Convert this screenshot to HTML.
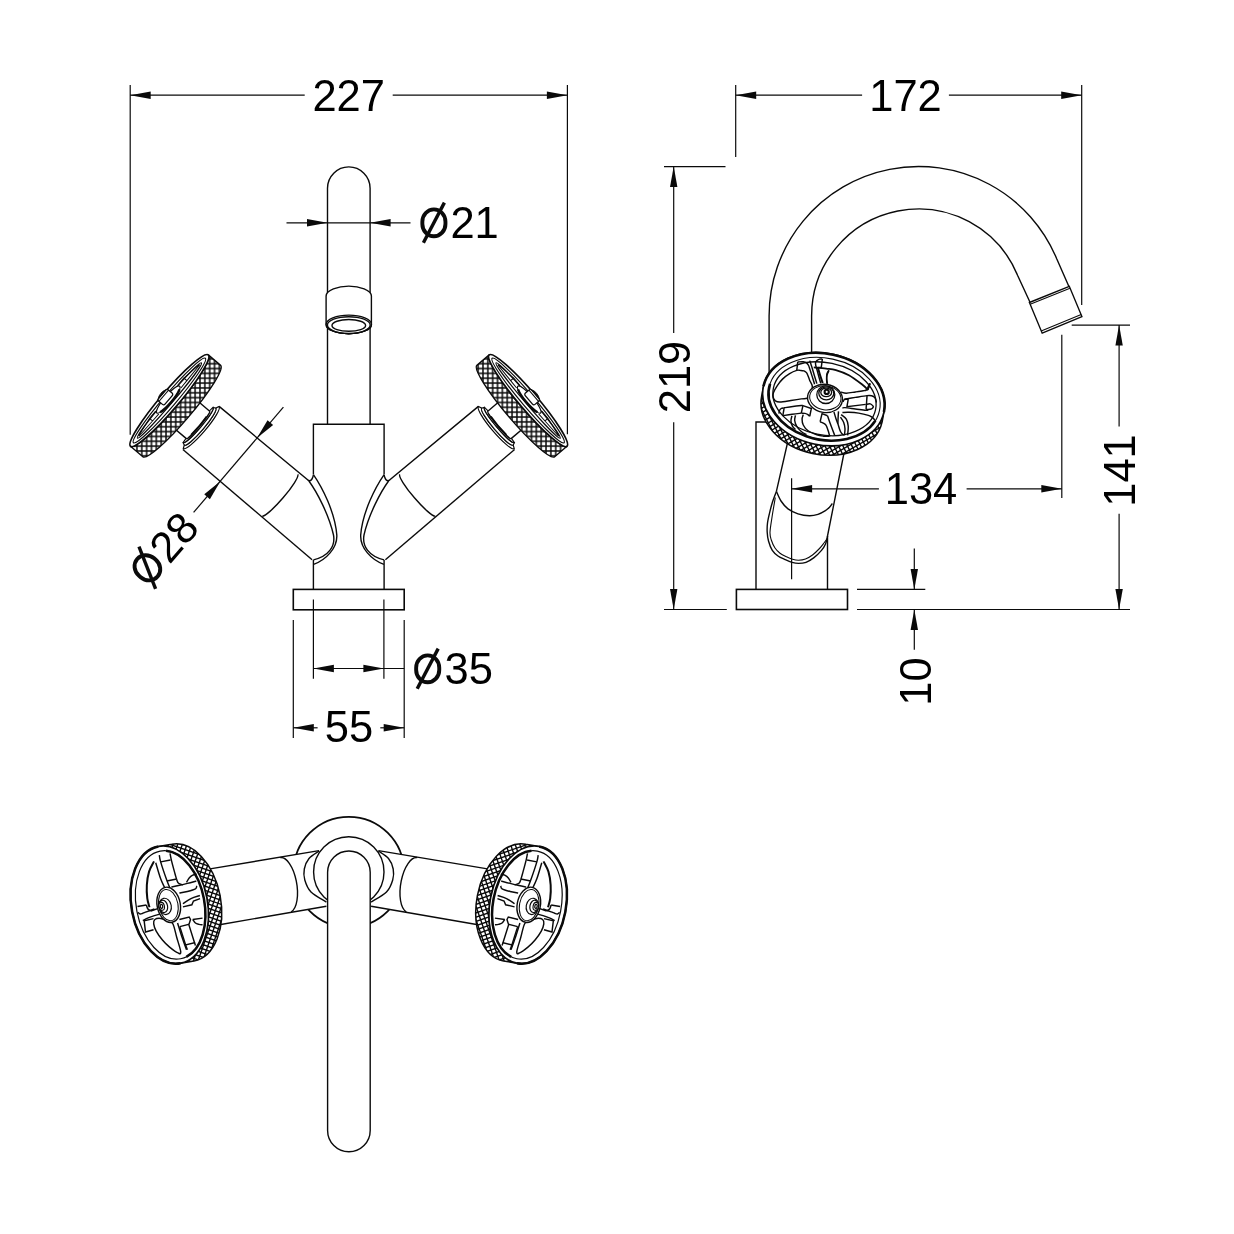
<!DOCTYPE html>
<html><head><meta charset="utf-8"><title>Tap dimensions</title>
<style>
html,body{margin:0;padding:0;background:#fff;}
svg{display:block;will-change:transform;}
text{font-family:"Liberation Sans",sans-serif;fill:#000;}
</style></head><body>
<svg width="1234" height="1234" viewBox="0 0 1234 1234">
<rect width="1234" height="1234" fill="#fff"/>
<defs>
<pattern id="grid" width="4.85" height="4.85" patternUnits="userSpaceOnUse" patternTransform="rotate(-40.4) translate(1.475 6.785)">
<rect width="4.85" height="4.85" fill="#0a0a0a"/>
<rect x="0.75" y="0.75" width="3.35" height="3.35" fill="#fff"/>
</pattern>
<pattern id="diag" width="4.0" height="4.0" patternUnits="userSpaceOnUse" patternTransform="translate(830.1 447.2) rotate(-28)">
<rect width="4" height="4" fill="#0a0a0a"/>
<rect x="0.7" y="0.7" width="2.6" height="2.6" fill="#fff"/>
</pattern>
<pattern id="diag2" width="4.4" height="4.0" patternUnits="userSpaceOnUse" patternTransform="translate(213.5 889) rotate(19)">
<rect width="4.4" height="4" fill="#0a0a0a"/>
<rect x="0.75" y="0.7" width="2.9" height="2.6" fill="#fff"/>
</pattern>
</defs>
<line x1="130.2" y1="85" x2="130.2" y2="434.8" stroke="#0a0a0a" stroke-width="1.2" />
<line x1="567.4" y1="85" x2="567.4" y2="434.3" stroke="#0a0a0a" stroke-width="1.2" />
<line x1="130.2" y1="95.2" x2="304.7" y2="95.2" stroke="#0a0a0a" stroke-width="1.2" />
<line x1="392.7" y1="95.2" x2="567.4" y2="95.2" stroke="#0a0a0a" stroke-width="1.2" />
<polygon points="130.2,95.2 150.7,91.5 150.7,98.9" fill="#0a0a0a"/>
<polygon points="567.4,95.2 546.9,98.9 546.9,91.5" fill="#0a0a0a"/>
<text x="348.7" y="111" font-size="43.5" text-anchor="middle">227</text>
<path d="M327.5,424.2 V188.2 A21.3,21.3 0 0 1 370.1,188.2 V424.2" stroke="#0a0a0a" stroke-width="1.4" fill="none" />
<path d="M326.1,296 C326.1,290 338,286.1 348.8,286.1 C359.6,286.1 371.4,290 371.4,296 V324.4 A22.65,9.3 0 0 1 326.1,324.4 Z" stroke="#0a0a0a" stroke-width="1.4" fill="#fff" />
<ellipse cx="348.8" cy="324.4" rx="22.65" ry="9.3" stroke="#0a0a0a" stroke-width="1.4" fill="#fff" />
<ellipse cx="348.8" cy="325.1" rx="21.4" ry="8.4" stroke="#0a0a0a" stroke-width="1.4" fill="none" />
<ellipse cx="348.8" cy="325.4" rx="16.8" ry="5.9" stroke="#0a0a0a" stroke-width="1.4" fill="none" />
<line x1="286.5" y1="222.8" x2="410.5" y2="222.8" stroke="#0a0a0a" stroke-width="1.2" />
<polygon points="327.5,222.8 307,226.5 307,219.1" fill="#0a0a0a"/>
<polygon points="370.1,222.8 390.6,219.1 390.6,226.5" fill="#0a0a0a"/>
<g><rect x="422.35" y="209.35" width="23.1" height="26.9" rx="11.55" ry="12.37" fill="none" stroke="#0a0a0a" stroke-width="3.9"/><line x1="423.4" y1="242.7" x2="444.4" y2="202.6" stroke="#0a0a0a" stroke-width="3.4"/></g>
<text x="450.4" y="237.8" font-size="43.5" text-anchor="start">21</text>
<path d="M313.4,474.6 V424.2 H384.1 V474.6" stroke="#0a0a0a" stroke-width="1.4" fill="none" />
<path d="M313.4,559.9 V589.4 M384.1,559.9 V589.4" stroke="#0a0a0a" stroke-width="1.4" fill="none" />
<rect x="293.3" y="589.4" width="110.9" height="20.4" fill="#fff" stroke="#0a0a0a" stroke-width="1.6"/>
<g id="fh"><g transform="translate(169.4 400.55) rotate(40.4)"><path d="M41.7,-27.6 A4.8,27.6 0 0 1 41.7,27.6 L40.2,24.2 A4.0,24.2 0 0 0 40.2,-24.2 Z" stroke="#0a0a0a" stroke-width="1.2" fill="#fff" />
<path d="M40.2,-24.2 A4.0,24.2 0 0 1 40.2,24.2 L37.6,23.2 A3.4,23.2 0 0 0 37.6,-23.2 Z" stroke="#0a0a0a" stroke-width="1.1" fill="#fff" />
<path d="M37.6,-23.2 A3.4,23.2 0 0 1 37.6,23.2 L37.2,18 A2.0,18 0 0 0 37.2,-18 Z" stroke="#0a0a0a" stroke-width="1.1" fill="#fff" />
<path d="M18,-18 H37.6 A2.0,18 0 0 1 37.6,18 H18" stroke="#0a0a0a" stroke-width="1.4" fill="#fff" />
<path d="M38.6,-12 A2.0,18 0 0 1 38.6,12" stroke="#0a0a0a" stroke-width="1.6" fill="none" />
<path d="M0,-60 L16.2,-60 A9.0,60 0 0 1 16.2,60 L0,60 A9.0,60 0 0 0 0,-60 Z" stroke="#0a0a0a" stroke-width="1.4" fill="url(#grid)" />
<ellipse cx="0" cy="0" rx="9" ry="60" stroke="#0a0a0a" stroke-width="1.7" fill="#fff" />
<ellipse cx="0" cy="0" rx="6.2" ry="55.5" stroke="#0a0a0a" stroke-width="1.2" fill="none" />
<ellipse cx="0" cy="0" rx="3.3" ry="49.5" stroke="#0a0a0a" stroke-width="1.2" fill="none" />
<path d="M-3.6,17 L-3.6,26.5 L0.4,26.5 M-3.6,26.5 L-0.6,47 M0.6,17 L0.4,26.5 L-0.1,47" stroke="#0a0a0a" stroke-width="1.0" fill="none" />
<path d="M-3.6,-17 L-3.6,-26.5 L0.4,-26.5 M-3.6,-26.5 L-0.6,-47 M0.6,-17 L0.4,-26.5 L-0.1,-47" stroke="#0a0a0a" stroke-width="1.0" fill="none" />
<ellipse cx="-1.5" cy="0" rx="4" ry="17.6" stroke="#0a0a0a" stroke-width="1.2" fill="#fff" />
<path d="M0.5,-15 A4,17.6 0 0 1 0.5,15" stroke="#0a0a0a" stroke-width="2.4" fill="none" />
<rect x="-9.5" y="-7.4" width="8.5" height="14.8" rx="1.8" fill="#fff" stroke="#0a0a0a" stroke-width="1.3"/>
<path d="M-7.4,-7.4 V7.4" stroke="#0a0a0a" stroke-width="1.0" fill="none" />
<path d="M-9.5,-6.5 Q-13,0 -9.5,6.5 Z" stroke="#0a0a0a" stroke-width="0.8" fill="#0a0a0a" /></g>
<path d="M219.1,406.4 L307.6,479.7 C309,481.3 311.9,481.8 313.4,475" stroke="#0a0a0a" stroke-width="1.4" fill="none" />
<path d="M182.9,449.5 L312.1,559.7" stroke="#0a0a0a" stroke-width="1.4" fill="none" />
<path d="M297.8,474.4 A27.5,4.3 -49.4 0 1 262.1,516.1" stroke="#0a0a0a" stroke-width="1.4" fill="none" />
<path d="M313.4,474.6 C322,487 335,512 336.8,535 C337.5,548 326,560 313.6,564.4" stroke="#0a0a0a" stroke-width="1.4" fill="none" />
<path d="M308.9,481 C317,492 329,515 333.5,535 C335.5,546 329,556 313.4,559.9" stroke="#0a0a0a" stroke-width="1.4" fill="none" /></g>
<use href="#fh" transform="translate(697.5 0) scale(-1 1)"/>
<line x1="283.4" y1="407.2" x2="193.6" y2="512.4" stroke="#0a0a0a" stroke-width="1.2" />
<polygon points="257,438.1 267.53,420.13 273.15,424.94" fill="#0a0a0a"/>
<polygon points="220.4,481.2 209.87,499.17 204.25,494.36" fill="#0a0a0a"/>
<g transform="rotate(-49.2 147.4 567.8)"><rect x="135.85" y="554.35" width="23.1" height="26.9" rx="11.55" ry="12.37" fill="none" stroke="#0a0a0a" stroke-width="3.9"/><line x1="136.9" y1="587.7" x2="157.9" y2="547.6" stroke="#0a0a0a" stroke-width="3.4"/></g>
<g transform="translate(147.4 567.8) rotate(-49.2)"><text x="16.4" y="15" font-size="43.5" text-anchor="start">28</text></g>
<line x1="313.4" y1="599.4" x2="313.4" y2="678.8" stroke="#0a0a0a" stroke-width="1.2" />
<line x1="383.9" y1="599.4" x2="383.9" y2="678.8" stroke="#0a0a0a" stroke-width="1.2" />
<line x1="313.4" y1="668.5" x2="404.2" y2="668.5" stroke="#0a0a0a" stroke-width="1.2" />
<polygon points="313.4,668.5 333.9,664.8 333.9,672.2" fill="#0a0a0a"/>
<polygon points="383.9,668.5 363.4,672.2 363.4,664.8" fill="#0a0a0a"/>
<g><rect x="416.15" y="655.35" width="23.1" height="26.9" rx="11.55" ry="12.37" fill="none" stroke="#0a0a0a" stroke-width="3.9"/><line x1="417.2" y1="688.7" x2="438.2" y2="648.6" stroke="#0a0a0a" stroke-width="3.4"/></g>
<text x="444.6" y="684" font-size="43.5" text-anchor="start">35</text>
<line x1="293.3" y1="620" x2="293.3" y2="738" stroke="#0a0a0a" stroke-width="1.2" />
<line x1="404.2" y1="620" x2="404.2" y2="738" stroke="#0a0a0a" stroke-width="1.2" />
<line x1="293.3" y1="727.8" x2="317.6" y2="727.8" stroke="#0a0a0a" stroke-width="1.2" />
<line x1="380.3" y1="727.8" x2="404.2" y2="727.8" stroke="#0a0a0a" stroke-width="1.2" />
<polygon points="293.3,727.8 313.8,724.1 313.8,731.5" fill="#0a0a0a"/>
<polygon points="404.2,727.8 383.7,731.5 383.7,724.1" fill="#0a0a0a"/>
<text x="349" y="742.4" font-size="43.5" text-anchor="middle">55</text>
<line x1="735.7" y1="85" x2="735.7" y2="157" stroke="#0a0a0a" stroke-width="1.2" />
<line x1="1081.7" y1="85" x2="1081.7" y2="304.9" stroke="#0a0a0a" stroke-width="1.2" />
<line x1="735.7" y1="95.2" x2="862.1" y2="95.2" stroke="#0a0a0a" stroke-width="1.2" />
<line x1="948.9" y1="95.2" x2="1081.7" y2="95.2" stroke="#0a0a0a" stroke-width="1.2" />
<polygon points="735.7,95.2 756.2,91.5 756.2,98.9" fill="#0a0a0a"/>
<polygon points="1081.7,95.2 1061.2,98.9 1061.2,91.5" fill="#0a0a0a"/>
<text x="905.5" y="111" font-size="43.5" text-anchor="middle">172</text>
<line x1="664" y1="166.6" x2="725.5" y2="166.6" stroke="#0a0a0a" stroke-width="1.2" />
<line x1="664" y1="609.5" x2="726.8" y2="609.5" stroke="#0a0a0a" stroke-width="1.2" />
<line x1="673.7" y1="166.6" x2="673.7" y2="333" stroke="#0a0a0a" stroke-width="1.2" />
<line x1="673.7" y1="422.2" x2="673.7" y2="609.5" stroke="#0a0a0a" stroke-width="1.2" />
<polygon points="673.7,166.6 677.4,187.1 670,187.1" fill="#0a0a0a"/>
<polygon points="673.7,609.5 670,589 677.4,589" fill="#0a0a0a"/>
<text x="689.5" y="377" font-size="43.5" text-anchor="middle" transform="rotate(-90 689.5 377)">219</text>
<path d="M769.1,380 V316 A149.5,149.5 0 0 1 1056.82,259.03 L1068.8,286.2" stroke="#0a0a0a" stroke-width="1.4" fill="none" />
<path d="M811.6,360 V316 A107.0,107.0 0 0 1 1017.53,275.23 L1029.9,302" stroke="#0a0a0a" stroke-width="1.4" fill="none" />
<path d="M1029.4,302.5 L1069.3,286.3 L1081.9,316.6 L1042.2,333.2 Z" stroke="#0a0a0a" stroke-width="1.4" fill="#fff" />
<path d="M1030.2,304.2 L1070,288.2 M1041.2,331 L1081.2,314.6" stroke="#0a0a0a" stroke-width="1.1" fill="none" />
<line x1="1071.7" y1="325.1" x2="1130" y2="325.1" stroke="#0a0a0a" stroke-width="1.2" />
<line x1="857" y1="609.5" x2="1130" y2="609.5" stroke="#0a0a0a" stroke-width="1.2" />
<line x1="1119.1" y1="325.1" x2="1119.1" y2="426.4" stroke="#0a0a0a" stroke-width="1.2" />
<line x1="1119.1" y1="513.7" x2="1119.1" y2="609.5" stroke="#0a0a0a" stroke-width="1.2" />
<polygon points="1119.1,325.1 1122.8,345.6 1115.4,345.6" fill="#0a0a0a"/>
<polygon points="1119.1,609.5 1115.4,589 1122.8,589" fill="#0a0a0a"/>
<text x="1135" y="470.5" font-size="43.5" text-anchor="middle" transform="rotate(-90 1135 470.5)">141</text>
<line x1="791.6" y1="478.3" x2="791.6" y2="579.2" stroke="#0a0a0a" stroke-width="1.2" />
<line x1="1061.8" y1="334.8" x2="1061.8" y2="498" stroke="#0a0a0a" stroke-width="1.2" />
<line x1="857" y1="589.4" x2="925.3" y2="589.4" stroke="#0a0a0a" stroke-width="1.2" />
<line x1="914.3" y1="548.6" x2="914.3" y2="589.4" stroke="#0a0a0a" stroke-width="1.2" />
<line x1="914.3" y1="609.5" x2="914.3" y2="649.8" stroke="#0a0a0a" stroke-width="1.2" />
<polygon points="914.3,589.4 910.6,568.9 918,568.9" fill="#0a0a0a"/>
<polygon points="914.3,609.5 918,630 910.6,630" fill="#0a0a0a"/>
<text x="930.5" y="681.5" font-size="43.5" text-anchor="middle" transform="rotate(-90 930.5 681.5)">10</text>
<path d="M770,422 H756 V589.4 M827.5,536 V589.4" stroke="#0a0a0a" stroke-width="1.4" fill="none" />
<rect x="736.4" y="589.4" width="111.1" height="20.1" fill="#fff" stroke="#0a0a0a" stroke-width="1.6"/>
<path d="M790,432 L776.4,491.4 M846,443 L827.5,536" stroke="#0a0a0a" stroke-width="1.4" fill="none" />
<path d="M776.4,491.4 C777.17,493 779.07,498.08 781,501 C782.93,503.92 785.17,506.77 788,508.9 C790.83,511.03 794.43,512.67 798,513.8 C801.57,514.93 806.07,515.62 809.4,515.7 C812.73,515.78 815.4,515.12 818,514.3 C820.6,513.48 823.08,511.97 825,510.8 C826.92,509.63 828.27,508.52 829.5,507.3 C830.73,506.08 831.92,504.13 832.4,503.5" stroke="#0a0a0a" stroke-width="1.4" fill="none" />
<path d="M776.4,491.4 C775.75,493.17 773.63,498.43 772.5,502 C771.37,505.57 770.43,509.3 769.6,512.8 C768.77,516.3 767.9,519.77 767.5,523 C767.1,526.23 767.03,529.2 767.2,532.2 C767.37,535.2 767.65,537.97 768.5,541 C769.35,544.03 770.72,547.9 772.3,550.4 C773.88,552.9 775.85,554.47 778,556 C780.15,557.53 782.87,558.55 785.2,559.6 C787.53,560.65 789.78,561.67 792,562.3 C794.22,562.93 796.17,563.4 798.5,563.4 C800.83,563.4 803.42,563.27 806,562.3 C808.58,561.33 811.42,559.58 814,557.6 C816.58,555.62 819.58,552.67 821.5,550.4 C823.42,548.13 824.48,546.4 825.5,544 C826.52,541.6 827.25,537.33 827.6,536" stroke="#0a0a0a" stroke-width="1.4" fill="none" />
<path d="M775.3,497.5 C774.77,500.68 772.98,510.82 772.1,516.6 C771.22,522.38 770.13,528.3 770,532.2 C769.87,536.1 770.47,537.37 771.3,540 C772.13,542.63 773.55,545.8 775,548 C776.45,550.2 778.08,551.73 780,553.2 C781.92,554.67 784.42,555.8 786.5,556.8 C788.58,557.8 790.5,558.63 792.5,559.2 C794.5,559.77 796.33,560.23 798.5,560.2 C800.67,560.17 803.17,559.87 805.5,559 C807.83,558.13 810.17,556.75 812.5,555 C814.83,553.25 817.58,550.5 819.5,548.5 C821.42,546.5 822.72,544.67 824,543 C825.28,541.33 826.67,539.25 827.2,538.5" stroke="#0a0a0a" stroke-width="1.1" fill="none" />
<line x1="791.6" y1="488.8" x2="878.9" y2="488.8" stroke="#0a0a0a" stroke-width="1.2" />
<line x1="966.6" y1="488.8" x2="1061.8" y2="488.8" stroke="#0a0a0a" stroke-width="1.2" />
<polygon points="791.6,488.8 812.1,485.1 812.1,492.5" fill="#0a0a0a"/>
<polygon points="1061.8,488.8 1041.3,492.5 1041.3,485.1" fill="#0a0a0a"/>
<text x="921" y="504.4" font-size="43.5" text-anchor="middle">134</text>
<clipPath id="cps"><path d="M763.45,386.29 L761.65,396.19 A61.6,45.9 12.0 0 0 882.15,421.81 L883.95,411.91 A61.6,45.9 12.0 0 1 763.45,386.29 Z"/></clipPath>
<path d="M763.45,386.29 L761.65,396.19 A61.6,45.9 12.0 0 0 882.15,421.81 L883.95,411.91 A61.6,45.9 12.0 0 1 763.45,386.29 Z" fill="#fff"/>
<g clip-path="url(#cps)"><path d="M862.96,309.04 L936.67,453.7 M859.4,310.86 L933.1,455.52 M855.83,312.68 L929.54,457.33 M852.27,314.49 L925.97,459.15 M848.7,316.31 L922.41,460.96 M845.14,318.12 L918.85,462.78 M841.58,319.94 L915.28,464.59 M838.01,321.76 L911.72,466.41 M834.45,323.57 L908.15,468.23 M830.88,325.39 L904.59,470.04 M827.32,327.2 L901.03,471.86 M823.76,329.02 L897.46,473.67 M820.19,330.84 L893.9,475.49 M816.63,332.65 L890.33,477.31 M813.06,334.47 L886.77,479.12 M809.5,336.28 L883.21,480.94 M805.94,338.1 L879.64,482.75 M802.37,339.92 L876.08,484.57 M798.81,341.73 L872.51,486.39 M795.24,343.55 L868.95,488.2 M791.68,345.36 L865.38,490.02 M788.12,347.18 L861.82,491.83 M784.55,349 L858.26,493.65 M780.99,350.81 L854.69,495.47 M777.42,352.63 L851.13,497.28 M773.86,354.44 L847.56,499.1 M770.3,356.26 L844,500.91 M766.73,358.07 L840.44,502.73 M763.17,359.89 L836.87,504.55 M759.6,361.71 L833.31,506.36 M756.04,363.52 L829.74,508.18 M752.48,365.34 L826.18,509.99 M748.91,367.15 L822.62,511.81 M745.35,368.97 L819.05,513.63 M741.78,370.79 L815.49,515.44 M738.22,372.6 L811.92,517.26 M734.66,374.42 L808.36,519.07 M731.09,376.23 L804.8,520.89 M727.53,378.05 L801.23,522.71 M723.96,379.87 L797.67,524.52 M720.4,381.68 L794.1,526.34 M716.83,383.5 L790.54,528.15 M713.27,385.31 L786.98,529.97" stroke="#0a0a0a" stroke-width="1.4" fill="none"/><path d="M713,390.1 L853.6,308.92 M715,393.56 L855.6,312.39 M717,397.03 L857.6,315.85 M719,400.49 L859.6,319.32 M721,403.95 L861.6,322.78 M723,407.42 L863.6,326.24 M725,410.88 L865.6,329.71 M727,414.35 L867.6,333.17 M729,417.81 L869.6,336.64 M731,421.28 L871.6,340.1 M733,424.74 L873.6,343.56 M735,428.2 L875.6,347.03 M737,431.67 L877.6,350.49 M739,435.13 L879.6,353.96 M741,438.6 L881.6,357.42 M743,442.06 L883.6,360.88 M745,445.52 L885.6,364.35 M747,448.99 L887.6,367.81 M749,452.45 L889.6,371.28 M751,455.92 L891.6,374.74 M753,459.38 L893.6,378.21 M755,462.84 L895.6,381.67 M757,466.31 L897.6,385.13 M759,469.77 L899.6,388.6 M761,473.24 L901.6,392.06 M763,476.7 L903.6,395.53 M765,480.16 L905.6,398.99 M767,483.63 L907.6,402.45 M769,487.09 L909.6,405.92 M771,490.56 L911.6,409.38 M773,494.02 L913.6,412.85 M775,497.49 L915.6,416.31 M777,500.95 L917.6,419.77 M779,504.41 L919.6,423.24 M781,507.88 L921.6,426.7 M783,511.34 L923.6,430.17 M785,514.81 L925.6,433.63 M787,518.27 L927.6,437.09 M789,521.73 L929.6,440.56 M791,525.2 L931.6,444.02 M793,528.66 L933.6,447.49 M795,532.13 L935.6,450.95" stroke="#0a0a0a" stroke-width="1.4" fill="none"/></g>
<path d="M763.45,386.29 L761.65,396.19 A61.6,45.9 12.0 0 0 882.15,421.81 L883.95,411.91 A61.6,45.9 12.0 0 1 763.45,386.29 Z" stroke="#0a0a0a" stroke-width="1.5" fill="none" />
<ellipse cx="823.7" cy="399.1" rx="61.6" ry="45.9" stroke="#0a0a0a" stroke-width="1.6" fill="#fff" transform="rotate(12 823.7 399.1)" />
<path d="M763.45,386.29 A61.6,45.9 12.0 0 1 883.95,411.91" stroke="#0a0a0a" stroke-width="2.6" fill="none" />
<ellipse cx="824.3" cy="399" rx="56.4" ry="40.8" stroke="#0a0a0a" stroke-width="1.1" fill="none" transform="rotate(12 824.3 399)" />
<path d="M770.08,383.84 A56.4,40.8 12.0 0 0 875.39,420.66" stroke="#0a0a0a" stroke-width="2.6" fill="none" />
<ellipse cx="824.5" cy="398.8" rx="52.2" ry="36.1" stroke="#0a0a0a" stroke-width="1.3" fill="none" transform="rotate(12 824.5 398.8)" />
<path d="M796.77,370.37 C795.04,370.91 792.01,372.15 789.64,373.61 C787.26,375.07 784.56,377.12 782.5,379.12 C780.45,381.12 778.83,383.33 777.32,385.6 C775.8,387.87 774.13,390.79 773.43,392.73 C772.73,394.68 772.78,395.92 773.1,397.27 C773.43,398.62 774.24,400.06 775.37,400.84 C776.51,401.61 777.32,401.99 779.91,401.94 C782.5,401.88 787.37,401.02 790.93,400.51 C794.5,400 798.28,399.43 801.3,398.89 C804.33,398.35 807.25,399.27 809.08,397.27 C810.92,395.27 812.22,389.71 812.33,386.9 C812.43,384.09 810.49,382.36 809.73,380.41 C808.98,378.47 808.33,376.53 807.79,375.23 C807.25,373.93 807.14,373.37 806.49,372.64 C805.84,371.9 804.98,371.2 803.9,370.82 C802.82,370.44 801.2,370.44 800.01,370.37 C798.82,370.29 798.5,369.83 796.77,370.37 Z" stroke="#0a0a0a" stroke-width="1.45" fill="none" />
<path d="M814.59,384.3 C814.16,382.9 812.81,378.47 812,375.88 C811.19,373.28 810.31,370.47 809.73,368.75 C809.16,367.02 809.11,366.48 808.57,365.5 C808.03,364.53 807.38,363.53 806.49,362.91 C805.61,362.29 804.71,361.97 803.25,361.81 C801.79,361.65 798.66,361.92 797.74,361.94" stroke="#0a0a0a" stroke-width="1.45" fill="none" />
<path d="M797.74,361.94 L796.77,370.37" stroke="#0a0a0a" stroke-width="1.45" fill="none" />
<path d="M816.86,383.66 C816.43,382.25 815.08,377.93 814.27,375.23 C813.46,372.53 812.6,369.39 812,367.45 C811.41,365.5 811.08,364.69 810.71,363.56 C810.33,362.42 809.89,361.13 809.73,360.64" stroke="#0a0a0a" stroke-width="1.45" fill="none" />
<path d="M820.75,383.33 C820.43,382.2 819.46,378.85 818.81,376.53 C818.16,374.2 817.37,371.23 816.86,369.39 C816.36,367.56 815.98,366.64 815.76,365.5 C815.55,364.37 815.38,363.4 815.57,362.59 C815.75,361.78 816.22,361.21 816.86,360.64 C817.51,360.07 818.54,359.42 819.46,359.15 C820.38,358.88 821.89,359.04 822.37,359.02" stroke="#0a0a0a" stroke-width="1.45" fill="none" />
<path d="M822.37,359.02 L821.27,367.45 L817.51,367.45" stroke="#0a0a0a" stroke-width="1.45" fill="none" />
<path d="M817.84,367.45 C818.21,368.75 819.29,372.64 820.11,375.23 C820.92,377.82 822.27,381.71 822.7,383.01" stroke="#0a0a0a" stroke-width="2.0" fill="none" />
<path d="M828.86,370.37 C828.53,370.96 827.29,372.47 826.91,373.93 C826.53,375.39 826.59,377.5 826.59,379.12 C826.59,380.74 826.86,382.9 826.91,383.66" stroke="#0a0a0a" stroke-width="1.45" fill="none" />
<path d="M813.76,367.45 C815.83,367.64 822.51,368.18 826.21,368.62 C829.9,369.05 832.15,368.94 835.93,370.04 C839.71,371.14 844.58,372.85 848.9,375.23 C853.22,377.61 858.62,381.82 861.86,384.3 C865.11,386.79 867.27,389.17 868.35,390.14" stroke="#0a0a0a" stroke-width="1.8" fill="none" />
<path d="M828.93,370.37 C828.61,371.18 827.35,373.77 826.99,375.23 C826.62,376.69 826.64,377.66 826.73,379.12 C826.81,380.58 827.37,383.17 827.5,383.98" stroke="#0a0a0a" stroke-width="1.45" fill="none" />
<path d="M841.12,392.08 C841.98,392.27 843.93,393.21 846.3,393.19 C848.68,393.16 852.57,392.35 855.38,391.95 C858.19,391.55 861.32,391.11 863.16,390.79 C865,390.46 865.48,390.5 866.4,390.01 C867.32,389.52 868.08,388.98 868.67,387.87 C869.27,386.76 869.75,384.09 869.97,383.33" stroke="#0a0a0a" stroke-width="1.45" fill="none" />
<path d="M869.97,383.33 C869.7,383.93 868.75,385.82 868.35,386.9 C867.95,387.98 867.7,389.33 867.57,389.82" stroke="#0a0a0a" stroke-width="2.0" fill="none" />
<path d="M843.06,401.81 C843.23,401.48 843.6,400.3 844.04,399.86 C844.47,399.43 844.95,399.32 845.66,399.22 C846.36,399.11 847.82,399.22 848.25,399.22" stroke="#0a0a0a" stroke-width="1.45" fill="none" />
<path d="M844.36,399.22 C846.2,398.91 851.6,397.99 855.38,397.4 C859.16,396.81 864.35,395.92 867.05,395.65 C869.75,395.38 870.29,395.46 871.59,395.78 C872.88,396.1 874.02,396.48 874.83,397.59 C875.64,398.71 876.18,401.65 876.45,402.46" stroke="#0a0a0a" stroke-width="1.45" fill="none" />
<path d="M848.25,399.22 L846.95,406.67 L865.75,404.4" stroke="#0a0a0a" stroke-width="1.45" fill="none" />
<path d="M867.05,395.65 L866.08,409.26" stroke="#0a0a0a" stroke-width="1.45" fill="none" />
<path d="M866.08,404.4 C866.78,404.32 869.14,403.61 870.29,403.88 C871.45,404.15 872.53,405.48 873.01,406.02 C873.5,406.56 873.45,406.64 873.21,407.12 C872.97,407.61 872.4,408.53 871.59,408.94 C870.78,409.35 869.27,409.53 868.35,409.59 C867.43,409.64 866.46,409.32 866.08,409.26" stroke="#0a0a0a" stroke-width="1.45" fill="none" />
<path d="M842.41,407.97 C842.85,407.91 842.85,407.48 845.01,407.64 C847.17,407.81 851.92,408.51 855.38,408.94 C858.84,409.37 863.59,410.07 865.75,410.24 C867.91,410.4 867.91,409.97 868.35,409.91" stroke="#0a0a0a" stroke-width="1.45" fill="none" />
<path d="M842.41,412.51 C843.5,412.47 846.2,412.2 848.9,412.31 C851.6,412.42 855.38,412.64 858.62,413.15 C861.86,413.67 866.08,414.72 868.35,415.42 C870.62,416.13 871.16,416.61 872.24,417.37 C873.32,418.12 874.4,419.53 874.83,419.96" stroke="#0a0a0a" stroke-width="1.45" fill="none" />
<path d="M783.8,407.83 C785.31,407.61 789.69,406.93 792.88,406.53 C796.06,406.13 801.25,405.61 802.93,405.43" stroke="#0a0a0a" stroke-width="1.45" fill="none" />
<path d="M783.02,415.61 C784.56,415.39 789.16,414.72 792.23,414.31 C795.3,413.9 799.9,413.34 801.43,413.14" stroke="#0a0a0a" stroke-width="1.45" fill="none" />
<path d="M784.12,408.02 L782.83,415.61" stroke="#0a0a0a" stroke-width="1.45" fill="none" />
<path d="M802.93,405.56 L801.3,413.21" stroke="#0a0a0a" stroke-width="1.45" fill="none" />
<path d="M802.93,405.56 L811.35,408.48 L809.73,416.26" stroke="#0a0a0a" stroke-width="1.45" fill="none" />
<path d="M809.73,416.26 C809.35,415.93 808.27,414.8 807.46,414.31 C806.65,413.82 805.88,413.53 804.87,413.34 C803.87,413.14 802.01,413.18 801.43,413.14" stroke="#0a0a0a" stroke-width="1.45" fill="none" />
<path d="M783.8,407.83 C783.37,407.94 781.94,407.99 781.21,408.48 C780.47,408.96 779.77,409.88 779.39,410.75 C779.01,411.61 779.01,413.18 778.94,413.66" stroke="#0a0a0a" stroke-width="1.45" fill="none" />
<path d="M795.47,415.28 C795.34,416.15 794.48,418.63 794.69,420.47 C794.91,422.31 795.66,424.47 796.77,426.3 C797.87,428.14 799.68,430.09 801.3,431.49 C802.93,432.9 805.63,434.19 806.49,434.73" stroke="#0a0a0a" stroke-width="1.45" fill="none" />
<path d="M803.25,414.64 C803.06,415.39 802.08,417.44 802.08,419.17 C802.08,420.9 802.3,423.12 803.25,425.01 C804.2,426.9 805.52,428.9 807.79,430.52 C810.06,432.14 814.27,433.79 816.86,434.73 C819.46,435.67 821.29,435.89 823.35,436.16 C825.4,436.43 828.21,436.32 829.18,436.35" stroke="#0a0a0a" stroke-width="1.45" fill="none" />
<path d="M791.9,415.93 C791.74,416.8 790.82,419.39 790.93,421.12 C791.04,422.85 791.8,424.9 792.55,426.3 C793.31,427.71 794.98,429.01 795.47,429.55" stroke="#0a0a0a" stroke-width="1.45" fill="none" />
<path d="M820.11,421.77 C820.86,422.11 823.56,423.08 824.64,423.84 C825.72,424.6 825.99,425.14 826.59,426.3 C827.18,427.47 827.67,429.11 828.21,430.84 C828.75,432.57 829.56,435.71 829.83,436.68" stroke="#0a0a0a" stroke-width="1.45" fill="none" />
<path d="M820.11,421.77 L822.05,413.66 L827.56,415.8" stroke="#0a0a0a" stroke-width="1.45" fill="none" />
<path d="M827.56,415.8 C827.94,416.9 828.64,419.15 829.83,422.41 C831.02,425.68 833.88,433.22 834.69,435.38" stroke="#0a0a0a" stroke-width="1.45" fill="none" />
<path d="M833.98,412.04 C834.3,413.12 835.28,416.58 835.92,418.53 C836.57,420.47 837.11,421.55 837.87,423.71 C838.63,425.87 839.49,429.55 840.46,431.49 C841.43,433.44 843.16,434.73 843.7,435.38" stroke="#0a0a0a" stroke-width="1.45" fill="none" />
<path d="M838.52,411.39 C838.45,412.37 838.24,415.18 838.13,417.23 C838.02,419.28 837.91,422.63 837.87,423.71" stroke="#0a0a0a" stroke-width="1.45" fill="none" />
<path d="M841.11,414.64 C841.97,415.39 845.11,417.23 846.3,419.17 C847.49,421.12 848.03,423.6 848.24,426.3 C848.46,429.01 847.7,433.87 847.59,435.38" stroke="#0a0a0a" stroke-width="1.45" fill="none" />
<path d="M840.46,417.23 C841,418.09 842.95,420.47 843.7,422.41 C844.46,424.36 844.89,426.74 845,428.9 C845.11,431.06 844.46,434.3 844.35,435.38" stroke="#0a0a0a" stroke-width="1.45" fill="none" />
<ellipse cx="825" cy="398.4" rx="17.5" ry="14.1" stroke="#0a0a0a" stroke-width="1.4" fill="#fff" transform="rotate(8 825 398.4)" />
<ellipse cx="825.3" cy="397.8" rx="15.7" ry="12" stroke="#0a0a0a" stroke-width="1.0" fill="none" transform="rotate(8 825.3 397.8)" />
<ellipse cx="825.8" cy="394.7" rx="9" ry="8.8" stroke="#0a0a0a" stroke-width="1.3" fill="#fff" />
<ellipse cx="826.3" cy="393.3" rx="7.5" ry="6.5" stroke="#0a0a0a" stroke-width="1.3" fill="#fff" />
<ellipse cx="826.2" cy="392.4" rx="5.4" ry="4.3" stroke="#0a0a0a" stroke-width="1.3" fill="#fff" />
<circle cx="826.7" cy="391.9" r="2.1" fill="#fff" stroke="#0a0a0a" stroke-width="2.1"/>
<circle cx="348.8" cy="872" r="55.2" fill="none" stroke="#0a0a0a" stroke-width="1.8"/>
<path d="M319.1,850.6 L207,869.4 L218,925 L326.4,906.2 L348.8,900 L371.2,906.2 L479.6,925 L490.6,869.4 L378.5,850.6 L348.8,840 Z" fill="#fff"/>
<circle cx="348.8" cy="872" r="35.2" fill="#fff" stroke="#0a0a0a" stroke-width="1.4"/>
<g id="bh"><path d="M319.1,850.6 L207,869.4 M326.4,906.2 L218,925" stroke="#0a0a0a" stroke-width="1.4" fill="none" />
<path d="M280.2,857.6 A12,27.8 -9.6 0 1 291.2,911.8" stroke="#0a0a0a" stroke-width="1.4" fill="none" />
<path d="M319.1,851 C317.42,852.25 311.47,855.5 309,858.5 C306.53,861.5 305,865.42 304.3,869 C303.6,872.58 303.68,876.17 304.8,880 C305.92,883.83 307.4,888.32 311,892 C314.6,895.68 323.83,900.42 326.4,902.1" stroke="#0a0a0a" stroke-width="1.4" fill="none" />
<clipPath id="cpb"><path d="M158.37,846.45 L171.67,844.35 A38.0,59.4 -10.8 0 1 193.93,961.05 L180.63,963.15 A38.0,59.4 -10.8 0 0 158.37,846.45 Z"/></clipPath>
<path d="M158.37,846.45 L171.67,844.35 A38.0,59.4 -10.8 0 1 193.93,961.05 L180.63,963.15 A38.0,59.4 -10.8 0 0 158.37,846.45 Z" fill="#fff"/>
<g clip-path="url(#cpb)"><path d="M142.89,801.23 L293.08,852.94 M141.59,805.01 L291.77,856.73 M140.29,808.79 L290.47,860.51 M138.98,812.58 L289.17,864.29 M137.68,816.36 L287.87,868.07 M136.38,820.14 L286.57,871.85 M135.08,823.92 L285.26,875.64 M133.77,827.7 L283.96,879.42 M132.47,831.49 L282.66,883.2 M131.17,835.27 L281.36,886.98 M129.87,839.05 L280.05,890.76 M128.56,842.83 L278.75,894.55 M127.26,846.61 L277.45,898.33 M125.96,850.4 L276.15,902.11 M124.66,854.18 L274.85,905.89 M123.36,857.96 L273.54,909.67 M122.05,861.74 L272.24,913.46 M120.75,865.53 L270.94,917.24 M119.45,869.31 L269.64,921.02 M118.15,873.09 L268.33,924.8 M116.84,876.87 L267.03,928.58 M115.54,880.65 L265.73,932.37 M114.24,884.44 L264.43,936.15 M112.94,888.22 L263.12,939.93 M111.64,892 L261.82,943.71 M110.33,895.78 L260.52,947.5 M109.03,899.56 L259.22,951.28 M107.73,903.35 L257.92,955.06 M106.43,907.13 L256.61,958.84 M105.12,910.91 L255.31,962.62 M103.82,914.69 L254.01,966.41 M102.52,918.47 L252.71,970.19 M101.22,922.26 L251.4,973.97 M99.91,926.04 L250.1,977.75 M98.61,929.82 L248.8,981.53 M97.31,933.6 L247.5,985.32 M96.01,937.38 L246.2,989.1 M94.71,941.17 L244.89,992.88 M93.4,944.95 L243.59,996.66 M92.1,948.73 L242.29,1000.44 M90.8,952.51 L240.99,1004.23 M89.5,956.29 L239.68,1008.01" stroke="#0a0a0a" stroke-width="1.4" fill="none"/><path d="M294.94,855.2 L242.97,1006.14 M290.78,853.77 L238.81,1004.71 M286.62,852.33 L234.65,1003.28 M282.46,850.9 L230.49,1001.84 M278.3,849.47 L226.33,1000.41 M274.14,848.04 L222.17,998.98 M269.98,846.6 L218.01,997.55 M265.82,845.17 L213.85,996.11 M261.66,843.74 L209.69,994.68 M257.5,842.31 L205.53,993.25 M253.34,840.87 L201.37,991.82 M249.18,839.44 L197.2,990.38 M245.02,838.01 L193.04,988.95 M240.86,836.58 L188.88,987.52 M236.7,835.14 L184.72,986.09 M232.54,833.71 L180.56,984.65 M228.38,832.28 L176.4,983.22 M224.22,830.85 L172.24,981.79 M220.06,829.41 L168.08,980.36 M215.9,827.98 L163.92,978.92 M211.74,826.55 L159.76,977.49 M207.58,825.12 L155.6,976.06 M203.42,823.68 L151.44,974.63 M199.26,822.25 L147.28,973.19 M195.1,820.82 L143.12,971.76 M190.93,819.39 L138.96,970.33 M186.77,817.95 L134.8,968.9 M182.61,816.52 L130.64,967.46 M178.45,815.09 L126.48,966.03 M174.29,813.66 L122.32,964.6 M170.13,812.22 L118.16,963.17 M165.97,810.79 L114,961.73 M161.81,809.36 L109.84,960.3 M157.65,807.93 L105.68,958.87 M153.49,806.49 L101.52,957.44 M149.33,805.06 L97.36,956 M145.17,803.63 L93.2,954.57 M141.01,802.2 L89.04,953.14" stroke="#0a0a0a" stroke-width="1.4" fill="none"/></g>
<path d="M158.37,846.45 L171.67,844.35 A38.0,59.4 -10.8 0 1 193.93,961.05 L180.63,963.15 A38.0,59.4 -10.8 0 0 158.37,846.45 Z" stroke="#0a0a0a" stroke-width="1.5" fill="none" />
<ellipse cx="169.5" cy="904.8" rx="38" ry="59.4" stroke="#0a0a0a" stroke-width="1.6" fill="#fff" transform="rotate(-10.8 169.5 904.8)" />
<path d="M158.37,846.45 A38.0,59.4 -10.8 0 0 180.63,963.15" stroke="#0a0a0a" stroke-width="2.5" fill="none" />
<ellipse cx="170.4" cy="904.9" rx="34.1" ry="54.8" stroke="#0a0a0a" stroke-width="1.2" fill="none" transform="rotate(-10.8 170.4 904.9)" />
<path d="M166.1,850.78 A34.1,54.8 -10.8 0 1 186.33,956.8" stroke="#0a0a0a" stroke-width="2.5" fill="none" />
<path d="M153.97,861.41 C153.15,863.11 150.26,867.72 149.07,871.66 C147.88,875.59 147.14,880.57 146.84,885.03 C146.54,889.49 146.84,894.69 147.29,898.4 C147.73,902.11 149.14,905.83 149.51,907.31" stroke="#0a0a0a" stroke-width="2.0" fill="none" />
<path d="M155.75,862.74 C156.57,865.42 159.02,874.33 160.66,878.79 C162.29,883.25 164.74,887.7 165.56,889.49" stroke="#0a0a0a" stroke-width="1.45" fill="none" />
<path d="M159.32,855.17 C159.54,856.28 159.39,857.62 160.66,861.85 C161.92,866.09 165.34,876.19 166.9,880.57 C168.46,884.95 169.5,886.89 170.02,888.15" stroke="#0a0a0a" stroke-width="1.45" fill="none" />
<path d="M160.66,861.85 L170.46,860.07" stroke="#0a0a0a" stroke-width="1.45" fill="none" />
<path d="M170.02,853.38 C170.24,854.5 170.54,856.73 171.35,860.07 C172.17,863.41 174.03,870.17 174.92,873.44 C175.81,876.71 176.41,878.64 176.7,879.68" stroke="#0a0a0a" stroke-width="1.45" fill="none" />
<path d="M166.9,881.02 L176.7,878.97" stroke="#0a0a0a" stroke-width="1.45" fill="none" />
<path d="M171.35,886.99 C172.54,886.75 175.81,886.16 178.49,885.56 C181.16,884.97 184.43,884.18 187.4,883.42 C190.37,882.67 194.83,881.42 196.31,881.02" stroke="#0a0a0a" stroke-width="1.45" fill="none" />
<path d="M186.51,882.35 C186.95,881.61 188.14,879.09 189.18,877.9 C190.22,876.71 191.49,875.85 192.75,875.22 C194.01,874.6 196.09,874.33 196.76,874.15" stroke="#0a0a0a" stroke-width="1.45" fill="none" />
<path d="M179.38,893.05 C180.71,892.78 184.73,892.16 187.4,891.45 C190.07,890.73 193.86,889.69 195.42,888.77 C196.98,887.85 196.54,886.4 196.76,885.92" stroke="#0a0a0a" stroke-width="1.45" fill="none" />
<path d="M182.94,903.75 C184.28,902.89 188.14,899.94 190.97,898.58 C193.79,897.21 198.39,896.05 199.88,895.55" stroke="#0a0a0a" stroke-width="1.45" fill="none" />
<path d="M182.94,906.87 L191.86,904.82 L193.46,901.07 L200.06,898.58" stroke="#0a0a0a" stroke-width="1.45" fill="none" />
<path d="M176.7,879.68 C177,880.27 177.45,882.38 178.49,883.25 C179.53,884.11 182.2,884.58 182.94,884.85" stroke="#0a0a0a" stroke-width="1.45" fill="none" />
<path d="M137.48,906.56 L146.39,904.96" stroke="#0a0a0a" stroke-width="1.45" fill="none" />
<path d="M146.39,904.96 C146.62,905.59 146.99,907.78 147.73,908.79 C148.47,909.8 150.33,910.65 150.85,911.02" stroke="#0a0a0a" stroke-width="1.45" fill="none" />
<path d="M150.85,911.02 L158.43,908.34" stroke="#0a0a0a" stroke-width="1.45" fill="none" />
<path d="M137.93,912.35 C138.3,912.62 139.34,913.81 140.15,913.96 C140.97,914.11 141.79,913.59 142.83,913.25 C143.87,912.9 144.46,912.62 146.39,911.91 C148.33,911.2 153.08,909.46 154.42,908.97" stroke="#0a0a0a" stroke-width="1.45" fill="none" />
<path d="M142.83,920.56 C143.72,920.11 146.25,918.7 148.18,917.88 C150.11,917.06 152.46,916.28 154.42,915.65 C156.38,915.03 159.02,914.39 159.94,914.14" stroke="#0a0a0a" stroke-width="1.45" fill="none" />
<path d="M153.53,918.59 L144.17,920.82 L145.5,931.97 L153.53,929.74" stroke="#0a0a0a" stroke-width="1.45" fill="none" />
<path d="M154.86,919.49 C153.7,920.41 153.48,922.01 153.7,923.94 C153.93,925.87 154.74,928.4 156.2,931.07 C157.66,933.75 160.21,937.31 162.44,939.99 C164.67,942.66 166.9,944.92 169.57,947.12 C172.25,949.32 176.63,952.44 178.49,953.18 C180.34,953.92 181.01,954.22 180.71,951.58 C180.42,948.93 178.04,941.99 176.7,937.31 C175.37,932.63 174.33,926.29 172.69,923.5 C171.06,920.7 168.9,921.4 166.9,920.56 C164.89,919.71 162.66,918.59 160.66,918.42 C158.65,918.24 156.02,918.56 154.86,919.49 Z" stroke="#0a0a0a" stroke-width="1.45" fill="none" />
<path d="M177.59,923.05 C178.34,925.43 180.57,932.86 182.05,937.31 C183.54,941.77 185.77,947.71 186.51,949.79" stroke="#0a0a0a" stroke-width="1.45" fill="none" />
<path d="M179.82,926.62 L188.74,924.39 L194.53,942.66 L185.62,944.89 L179.82,926.62" stroke="#0a0a0a" stroke-width="1.45" fill="none" />
<path d="M185.62,944.89 L187.4,949.79" stroke="#0a0a0a" stroke-width="1.45" fill="none" />
<path d="M194.53,942.66 L195.42,945.52" stroke="#0a0a0a" stroke-width="1.45" fill="none" />
<path d="M179.38,919.49 L189.18,916.99 L190.52,919.49 L189,924.39" stroke="#0a0a0a" stroke-width="1.45" fill="none" />
<path d="M192.75,919.49 L202.55,918.15" stroke="#0a0a0a" stroke-width="1.45" fill="none" />
<path d="M192.75,919.49 C193.19,920.08 194.38,922.23 195.42,923.05 C196.46,923.87 197.8,924.09 198.99,924.39 C200.18,924.69 201.96,924.76 202.55,924.83" stroke="#0a0a0a" stroke-width="1.45" fill="none" />
<ellipse cx="168.7" cy="904.8" rx="11.6" ry="17.8" stroke="#0a0a0a" stroke-width="1.4" fill="#fff" transform="rotate(-10.8 168.7 904.8)" />
<ellipse cx="168.4" cy="905.1" rx="9.6" ry="15.8" stroke="#0a0a0a" stroke-width="1.0" fill="none" transform="rotate(-10.8 168.4 905.1)" />
<ellipse cx="165.1" cy="906.4" rx="6.2" ry="8.2" stroke="#0a0a0a" stroke-width="1.2" fill="#fff" transform="rotate(-10.8 165.1 906.4)" />
<ellipse cx="163.3" cy="906.4" rx="4.3" ry="6.2" stroke="#0a0a0a" stroke-width="1.2" fill="#fff" transform="rotate(-10.8 163.3 906.4)" />
<ellipse cx="161.7" cy="906.4" rx="2.7" ry="4" stroke="#0a0a0a" stroke-width="1.1" fill="#fff" transform="rotate(-10.8 161.7 906.4)" />
<ellipse cx="161.5" cy="906.4" rx="1.2" ry="2.1" stroke="#0a0a0a" stroke-width="1.3" fill="none" transform="rotate(-10.8 161.5 906.4)" /></g>
<use href="#bh" transform="translate(697.5 0) scale(-1 1)"/>
<path d="M327.6,1130.5 V872.3 A21.3,21.3 0 0 1 370.2,872.3 V1130.5 A21.3,21.3 0 0 1 327.6,1130.5 Z" stroke="#0a0a0a" stroke-width="1.4" fill="#fff" />
</svg>
</body></html>
